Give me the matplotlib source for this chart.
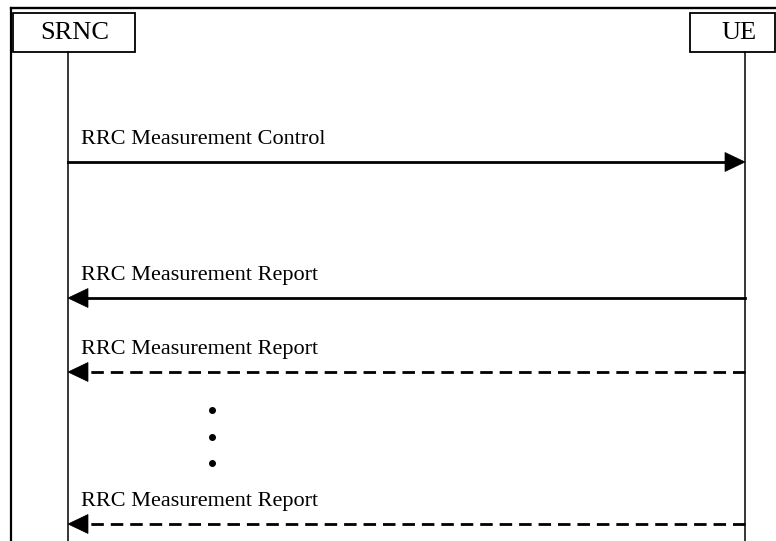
import matplotlib.pyplot as plt
from matplotlib.patches import Rectangle, Polygon

plt.rcParams['font.family'] = ['Liberation Serif', 'DejaVu Serif']

# participants and messages
actors = ["SRNC", "UE"]
actor_x = [68, 745]
messages = ["RRC Measurement Control", "RRC Measurement Report",
            "RRC Measurement Report", "RRC Measurement Report"]
senders = ["SRNC", "UE", "UE", "UE"]
dashed = [False, False, True, True]
msg_y = [162, 298, 372, 524]
dots_y = [410, 437, 463]
dots_x = 212

fig = plt.figure(figsize=(7.76, 5.41), dpi=100)
ax = fig.add_axes([0, 0, 1, 1])
ax.set_xlim(0, 776)
ax.set_ylim(541, 0)
ax.axis("off")

# outer frame (top and left)
ax.plot([11, 776], [8, 8], color="black", lw=1.7)
ax.plot([11, 11], [8, 541], color="black", lw=1.6)

# actor boxes and lifelines
boxes = {"SRNC": (13, 135, 75), "UE": (690, 775, 739)}
for name, x in zip(actors, actor_x):
    x0, x1, xt = boxes[name]
    ax.add_patch(Rectangle((x0, 13), x1 - x0, 39, fill=False, ec="black", lw=1.3))
    ax.text(xt, 39, name, ha="center", va="baseline", fontsize=19)
    ax.plot([x, x], [52, 541], color="black", lw=1.1)

pos = dict(zip(actors, actor_x))
for label, snd, dsh, y in zip(messages, senders, dashed, msg_y):
    xs = pos[snd]
    xe = pos["UE"] if snd == "SRNC" else pos["SRNC"]
    d = 1 if xe > xs else -1
    head = 20
    ax.plot([xs, xe - d * head], [y, y], color="black", lw=2.0,
            linestyle=(0, (4.5, 2.5)) if dsh else "-")
    ax.add_patch(Polygon([[xe, y], [xe - d * head, y - 9.5], [xe - d * head, y + 9.5]],
                         closed=True, fc="black", ec="black", lw=0.5))
    ax.text(81, y - 18, label, ha="left", va="baseline", fontsize=16)

ax.scatter([dots_x] * len(dots_y), dots_y, s=16, color="black")

fig.savefig("out.png", dpi=100)
